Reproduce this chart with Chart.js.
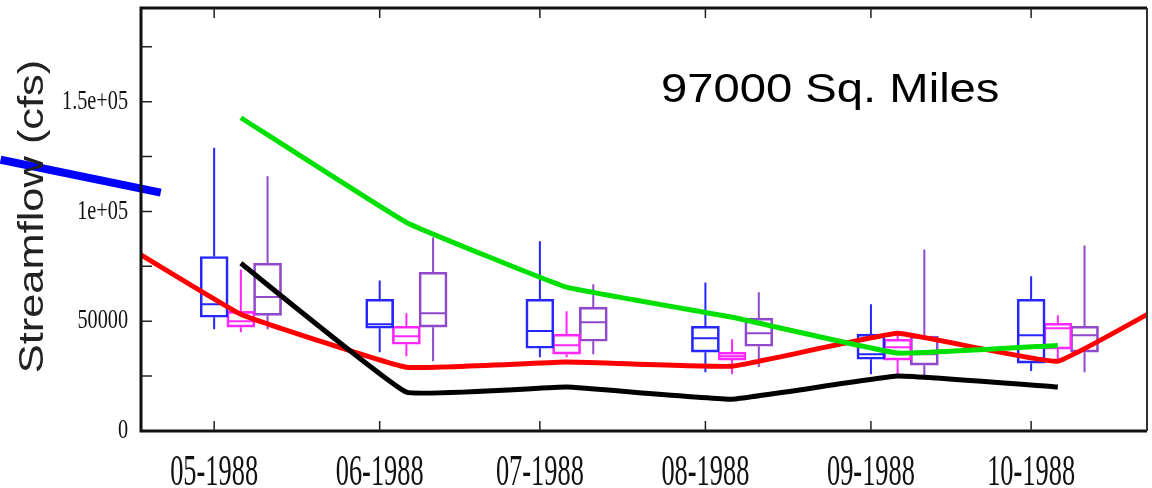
<!DOCTYPE html>
<html>
<head>
<meta charset="utf-8">
<script src="https://cdn.jsdelivr.net/npm/chart.js@4.4.1/dist/chart.umd.min.js"></script>
<style>
  body { margin: 0; background: #fff; }
  #wrap { width: 1152px; height: 488px; position: relative; }
</style>
</head>
<body>
<div id="wrap"><canvas id="flow"></canvas></div>
<script>
// x axis is days counted from 1 May 1988
const months = ['05-1988', '06-1988', '07-1988', '08-1988', '09-1988', '10-1988'];
const monthDays = [0, 31, 61, 92, 123, 153];

const yTickVals = [0, 50000, 100000, 150000];
const yTickLabels = ['0', '50000', '1e+05', '1.5e+05'];

// box stats per month: [low whisker, q1, median, q3, high whisker]
const blueBoxes = [
  [46400, 51800, 57700, 79500, 129000],
  [35900, 46800, 48600, 60000, 68600],
  [33600, 37700, 45500, 60000, 86400],
  [26800, 35900, 42300, 47700, 67700],
  [25900, 32700, 35000, 44100, 57700],
  [27300, 30900, 43600, 60000, 70500]
];
const magentaBoxes = [
  [45000, 47300, 50000, 54500, 73600],
  [34100, 39500, 43200, 47700, 53600],
  [33600, 35000, 39100, 44100, 54500],
  [25900, 32300, 34100, 35900, 41800],
  [25000, 32300, 38200, 41800, 45500],
  [32700, 37300, 46800, 49100, 52700]
];
const purpleBoxes = [
  [46400, 52700, 61000, 76400, 116000],
  [31800, 47300, 53600, 72300, 88200],
  [35000, 40900, 49500, 56400, 66800],
  [29100, 38600, 44500, 51400, 63200],
  [25000, 30000, 35000, 43200, 82700],
  [26800, 35900, 43600, 47700, 84500]
];

// monthly lines (plotted 5 days after month start)
const greenFlow = [142700, 95000, 65500, 51800, 35500, 39000];
const blackFlow = [76400, 17700, 20000, 14500, 25000, 20000];
// red runs from April to November, clipped by the frame
const redDays = [-30, 0, 31, 61, 92, 123, 153, 184];
const redFlow = [97000, 53200, 29000, 31400, 29500, 44500, 31800, 72700];

// the thick blue pointer at the left edge
const pointerDays = [-40, -10];
const pointerFlow = [123600, 108600];

const lineShift = 5;
const boxShift = [0, 5, 10];
const boxColors = ['#2626ff', '#ff26ff', '#9048cc'];
const boxSets = [blueBoxes, magentaBoxes, purpleBoxes];

function toPoints(days, vals, shift) {
  return days.map((d, i) => ({ x: d + shift, y: vals[i] }));
}

const lineSets = [
  { data: toPoints(monthDays, greenFlow, lineShift), color: '#00e000' },
  { data: toPoints(monthDays, blackFlow, lineShift), color: '#000000' },
  { data: toPoints(redDays, redFlow, lineShift), color: '#ff0000' }
];

const datasets = [];
datasets.push({
  type: 'line', data: toPoints(pointerDays, pointerFlow, 0),
  borderColor: '#0000ff', borderWidth: 8, pointRadius: 0, clip: false
});
lineSets.forEach(l => {
  datasets.push({
    type: 'line', data: l.data, borderColor: l.color, borderWidth: 5,
    pointRadius: 0, tension: 0.08, clip: 0
  });
});
boxSets.forEach((set, k) => {
  datasets.push({
    type: 'bar',
    data: set.map((b, i) => ({ x: monthDays[i] + boxShift[k], y: [b[1], b[3]] })),
    borderColor: boxColors[k], backgroundColor: 'rgba(0,0,0,0)',
    borderWidth: 2, borderSkipped: false, barThickness: 28, grouped: false
  });
});

function squeezeText(ctx, text, x, y, sx, align) {
  ctx.save();
  ctx.translate(x, y);
  ctx.scale(sx, 1);
  ctx.textAlign = align;
  ctx.fillText(text, 0, 0);
  ctx.restore();
}

const framePlugin = {
  id: 'frame',
  beforeDatasetsDraw(chart) {
    const ctx = chart.ctx;
    const xs = chart.scales.x, ys = chart.scales.y;
    // whiskers and medians
    boxSets.forEach((set, k) => {
      ctx.save();
      ctx.strokeStyle = boxColors[k];
      ctx.lineWidth = 2;
      set.forEach((b, i) => {
        const cx = xs.getPixelForValue(monthDays[i] + boxShift[k]);
        ctx.beginPath();
        ctx.moveTo(cx, ys.getPixelForValue(b[0]));
        ctx.lineTo(cx, ys.getPixelForValue(b[1]));
        ctx.moveTo(cx, ys.getPixelForValue(b[3]));
        ctx.lineTo(cx, ys.getPixelForValue(b[4]));
        const my = ys.getPixelForValue(b[2]);
        ctx.moveTo(cx - 13, my);
        ctx.lineTo(cx + 13, my);
        ctx.stroke();
      });
      ctx.restore();
    });
  },
  afterDraw(chart) {
    const ctx = chart.ctx;
    const a = chart.chartArea;
    const xs = chart.scales.x, ys = chart.scales.y;
    ctx.save();
    // frame
    ctx.strokeStyle = '#111';
    ctx.lineWidth = 3;
    ctx.beginPath();
    ctx.moveTo(a.right, a.top);
    ctx.lineTo(a.left, a.top);
    ctx.lineTo(a.left, a.bottom);
    ctx.lineTo(a.right, a.bottom);
    ctx.stroke();
    ctx.lineWidth = 2;
    ctx.strokeStyle = '#333';
    ctx.beginPath();
    ctx.moveTo(a.right, a.top);
    ctx.lineTo(a.right, a.bottom);
    ctx.stroke();

    // inward tick marks
    ctx.lineWidth = 1.5;
    ctx.strokeStyle = '#222';
    ctx.beginPath();
    for (let v = 25000; v < ys.max; v += 25000) {
      const py = ys.getPixelForValue(v);
      ctx.moveTo(a.left, py);
      ctx.lineTo(a.left + 11, py);
    }
    monthDays.forEach(d => {
      const px = xs.getPixelForValue(d);
      ctx.moveTo(px, a.bottom);
      ctx.lineTo(px, a.bottom - 10);
      ctx.moveTo(px, a.top);
      ctx.lineTo(px, a.top + 10);
    });
    ctx.stroke();

    // tick labels, narrow serif
    ctx.fillStyle = '#111';
    ctx.textBaseline = 'middle';
    ctx.font = '27px "Liberation Serif"';
    yTickVals.forEach((v, i) => {
      squeezeText(ctx, yTickLabels[i], a.left - 13, ys.getPixelForValue(v), 0.75, 'right');
    });
    ctx.textBaseline = 'alphabetic';
    ctx.font = '44px "Liberation Serif"';
    months.forEach((m, i) => {
      squeezeText(ctx, m, xs.getPixelForValue(monthDays[i]), 485, 0.6, 'center');
    });

    // axis title
    ctx.fillStyle = '#222';
    ctx.font = '35px "Liberation Sans"';
    ctx.save();
    ctx.translate(43, (a.top + a.bottom) / 2 - 3);
    ctx.rotate(-Math.PI / 2);
    squeezeText(ctx, 'Streamflow (cfs)', 0, 0, 1.24, 'center');
    ctx.restore();

    // area label
    ctx.fillStyle = '#000';
    ctx.font = '40px "Liberation Sans"';
    squeezeText(ctx, '97000 Sq. Miles', 661, 102, 1.18, 'left');
    ctx.restore();
  }
};

new Chart(document.getElementById('flow'), {
  data: { datasets: datasets },
  options: {
    responsive: true,
    maintainAspectRatio: false,
    animation: false,
    layout: { padding: { top: 8, right: 5, left: 0, bottom: 0 } },
    plugins: { legend: { display: false }, tooltip: { enabled: false } },
    scales: {
      x: {
        type: 'linear', min: -13.7, max: 174.7, offset: false,
        ticks: { display: false }, grid: { display: false }, border: { display: false },
        afterFit: s => { s.height = 57; }
      },
      y: {
        min: 0, max: 192700,
        ticks: { display: false }, grid: { display: false }, border: { display: false },
        afterFit: s => { s.width = 141; }
      }
    }
  },
  plugins: [framePlugin]
});
</script>
</body>
</html>
